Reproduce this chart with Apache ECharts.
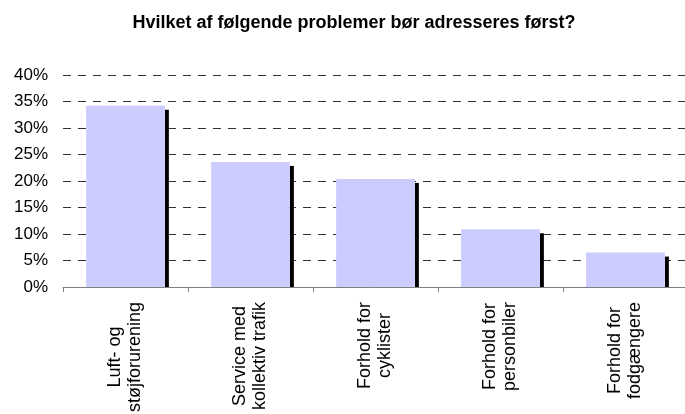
<!DOCTYPE html>
<html>
<head>
<meta charset="utf-8">
<script src="https://cdn.jsdelivr.net/npm/echarts@6/dist/echarts.min.js"></script>
<style>
  html, body { margin: 0; padding: 0; background: #fff; }
  #chart { width: 685px; height: 414px; }
</style>
</head>
<body>
<div id="chart"></div>
<script>
var categories = ['Luft- og\nstøjforurening', 'Service med\nkollektiv trafik', 'Forhold for\ncyklister', 'Forhold for\npersonbiler', 'Forhold for\nfodgængere'];
var shares = [34.2, 23.6, 20.4, 10.9, 6.5];
var yTicks = [0, 5, 10, 15, 20, 25, 30, 35, 40];

var chart = echarts.init(document.getElementById('chart'));

// lavender bar with a black strip on its right side (the old 3d look)
function renderBar(params, api) {
    var top = api.coord([api.value(0), api.value(1)]);
    var base = api.coord([api.value(0), 0]);
    var band = api.size([1, 0])[0];
    var w = band * 0.63;
    var x0 = top[0] - w / 2;
    return {
        type: 'group',
        children: [
            {
                type: 'rect',
                shape: { x: x0 + w, y: top[1] + 4, width: 4, height: base[1] - top[1] - 4 },
                style: { fill: '#000000' }
            },
            {
                type: 'rect',
                shape: { x: x0, y: top[1], width: w, height: base[1] - top[1] },
                style: { fill: '#CCCCFF' }
            }
        ]
    };
}

var option = {
    animation: false,
    title: {
        text: 'Hvilket af følgende problemer bør adresseres først?',
        left: 349,
        textAlign: 'center',
        top: 9,
        textStyle: { fontFamily: 'Liberation Sans', fontSize: 18, fontWeight: 'bold', color: '#000' }
    },
    grid: { left: 63, right: -3, top: 75, bottom: 127, containLabel: false, outerBoundsMode: 'none' },
    xAxis: {
        type: 'category',
        data: categories,
        axisLine: { lineStyle: { color: '#808080', width: 1 } },
        axisTick: { show: true, length: 5, lineStyle: { color: '#808080' } },
        axisLabel: {
            rotate: 90,
            interval: 0,
            margin: 15,
            overflow: 'none',
            color: '#000',
            formatter: function (v) {
                return v.split('\n').map(function (s) { return '{c|' + s + '}'; }).join('\n');
            },
            rich: {
                c: { align: 'center', fontFamily: 'Liberation Sans', fontSize: 18, lineHeight: 20, color: '#000' }
            }
        }
    },
    yAxis: {
        type: 'value',
        min: yTicks[0],
        max: yTicks[yTicks.length - 1],
        interval: 5,
        axisLine: { show: false },
        axisTick: { show: false },
        axisLabel: {
            margin: 15,
            fontFamily: 'Liberation Sans',
            fontSize: 17,
            color: '#000',
            formatter: '{value}%'
        },
        splitLine: { lineStyle: { color: '#333', type: [8, 7], width: 1 } }
    },
    series: [
        {
            type: 'custom',
            renderItem: renderBar,
            data: shares.map(function (v, i) { return [i, v]; })
        }
    ]
};

chart.setOption(option);
</script>
</body>
</html>
